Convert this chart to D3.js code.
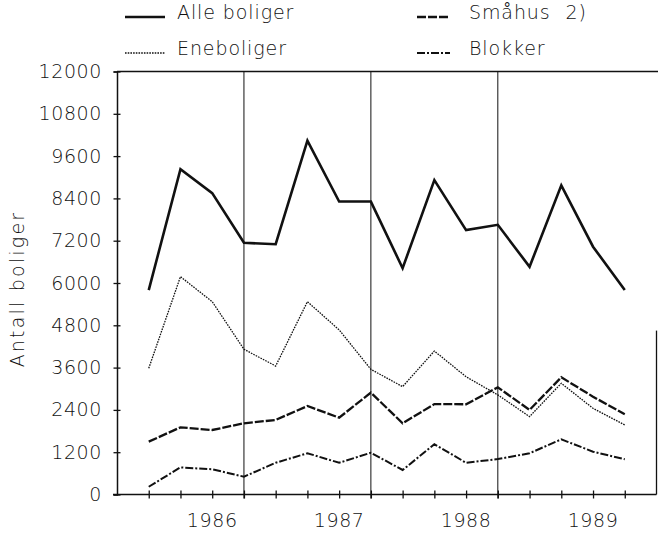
<!DOCTYPE html>
<html>
<head>
<meta charset="utf-8">
<script src="https://cdn.jsdelivr.net/npm/d3@7/dist/d3.min.js"></script>
<style>
  html, body { margin: 0; padding: 0; background: #fff; }
  svg { display: block; }
  text { font-family: "DejaVu Sans", sans-serif; fill: #111; }
</style>
</head>
<body>
<svg id="chart" width="658" height="533"></svg>
<script>
// ---- data (quarterly observations) ----
const periods = ["P1","P2","P3","P4","P5","P6","P7","P8","P9","P10","P11","P12","P13","P14","P15","P16"];
const alleBoliger = [5800, 9230, 8550, 7140, 7100, 10040, 8310, 8310, 6420, 8920, 7500, 7650, 6460, 8770, 7030, 5800];
const eneboliger  = [3580, 6180, 5470, 4120, 3645, 5470, 4670, 3550, 3060, 4070, 3340, 2825, 2210, 3155, 2445, 1975];
const smahus      = [1500, 1905, 1830, 2020, 2115, 2510, 2180, 2890, 2020, 2565, 2560, 3040, 2400, 3325, 2775, 2275];
const blokker     = [ 220,  770,  715,  505,  900, 1170,  900, 1185,  695, 1425,  900, 1005, 1170, 1565, 1215, 1000];
const seriesNames = ["Alle boliger", "Eneboliger", "Småhus 2)", "Blokker"];
const yTicks = [0, 1200, 2400, 3600, 4800, 6000, 7200, 8400, 9600, 10800, 12000];
const yearLabels = ["1986", "1987", "1988", "1989"];
const yearLabelPeriods = ["P3", "P7", "P11", "P15"];
const yearSeparatorPeriods = ["P4", "P8", "P12"];
const yTitle = "Antall boliger";

// ---- layout ----
const L = 117, R = 656.5, T = 71.5, B = 494.5;
const svg = d3.select("#chart");

const x = d3.scalePoint().domain(periods).range([L, R]).padding(1);
const y = d3.scaleLinear().domain([0, 12000]).range([B, T]);

// frame (top / partial right, as in the scanned original)
svg.append("path")
  .attr("d", `M${L},${T}H${R + 2}`)
  .attr("fill", "none").attr("stroke", "#111").attr("stroke-width", 1.3);
svg.append("path")
  .attr("d", `M${R},${y(4650)}V${B}`)
  .attr("fill", "none").attr("stroke", "#111").attr("stroke-width", 1.3);

// year separators
svg.selectAll("line.sep").data(yearSeparatorPeriods).join("line")
  .attr("class", "sep")
  .attr("x1", d => x(d)).attr("x2", d => x(d))
  .attr("y1", T).attr("y2", B + 4)
  .attr("stroke", "#111").attr("stroke-width", 1);

// y axis
const yAxis = svg.append("g").attr("transform", `translate(${L},0)`)
  .call(d3.axisLeft(y).tickValues(yTicks).tickSize(3.5).tickPadding(11.5).tickFormat(d3.format("d")));
yAxis.select(".domain").attr("stroke", "#111").attr("stroke-width", 1.5);
yAxis.selectAll(".tick line").attr("x1", 3.5).attr("x2", -3.5).attr("stroke", "#111").attr("stroke-width", 1.3);
yAxis.selectAll(".tick text")
  .attr("font-size", 19).attr("font-family", "DejaVu Sans").attr("font-weight", 300)
  .attr("fill", "#111").attr("letter-spacing", 0.6);

// x axis
const xAxis = svg.append("g").attr("transform", `translate(0,${B})`)
  .call(d3.axisBottom(x).tickSize(4).tickFormat(""));
xAxis.select(".domain").attr("d", `M${L - 4},0H${R}`).attr("stroke", "#111").attr("stroke-width", 1.5);
xAxis.selectAll(".tick line").attr("y1", -4).attr("y2", 4).attr("stroke", "#111").attr("stroke-width", 1.3);

// year labels
svg.selectAll("text.year").data(yearLabels).join("text")
  .attr("class", "year")
  .attr("x", (d, i) => x(yearLabelPeriods[i]))
  .attr("y", 527)
  .attr("text-anchor", "middle")
  .attr("font-size", 19).attr("font-weight", 300).attr("letter-spacing", 0.6)
  .text(d => d);

// y title
svg.append("text")
  .attr("transform", "translate(24,289) rotate(-90)")
  .attr("text-anchor", "middle")
  .attr("font-size", 19).attr("font-weight", 300).attr("letter-spacing", 2.2)
  .text(yTitle);

// series
const styles = [
  { values: alleBoliger, width: 2.6, dash: null },
  { values: eneboliger,  width: 1.3, dash: "1.6,1.1" },
  { values: smahus,      width: 2.3, dash: "9,2" },
  { values: blokker,     width: 2.0, dash: "8,2,2,2" }
];
const line = d3.line().x((d, i) => x(periods[i])).y(d => y(d));
svg.selectAll("path.series").data(styles).join("path")
  .attr("class", "series")
  .attr("d", d => line(d.values))
  .attr("fill", "none").attr("stroke", "#111")
  .attr("stroke-width", d => d.width)
  .attr("stroke-dasharray", d => d.dash)
  .attr("stroke-linejoin", "miter");

// legend
const legendPos = [
  { lx: 125, tx: 177, y: 19, ly: 17, ws: 0 },
  { lx: 125, tx: 177, y: 55, ly: 53, ws: 0 },
  { lx: 417, tx: 469, y: 19, ly: 17, ws: 8 },
  { lx: 417, tx: 469, y: 55, ly: 53, ws: 0 }
];
const lg = svg.selectAll("g.legend").data(seriesNames).join("g").attr("class", "legend");
lg.append("line")
  .attr("x1", (d, i) => legendPos[i].lx).attr("x2", (d, i) => legendPos[i].lx + (i < 2 ? 40 : 33))
  .attr("y1", (d, i) => legendPos[i].ly).attr("y2", (d, i) => legendPos[i].ly)
  .attr("stroke", "#111")
  .attr("stroke-width", (d, i) => styles[i].width)
  .attr("stroke-dasharray", (d, i) => styles[i].dash);
lg.append("text")
  .attr("x", (d, i) => legendPos[i].tx).attr("y", (d, i) => legendPos[i].y)
  .attr("font-size", 19).attr("font-weight", 300).attr("letter-spacing", 0.9)
  .attr("word-spacing", (d, i) => legendPos[i].ws)
  .text(d => d);
</script>
</body>
</html>
